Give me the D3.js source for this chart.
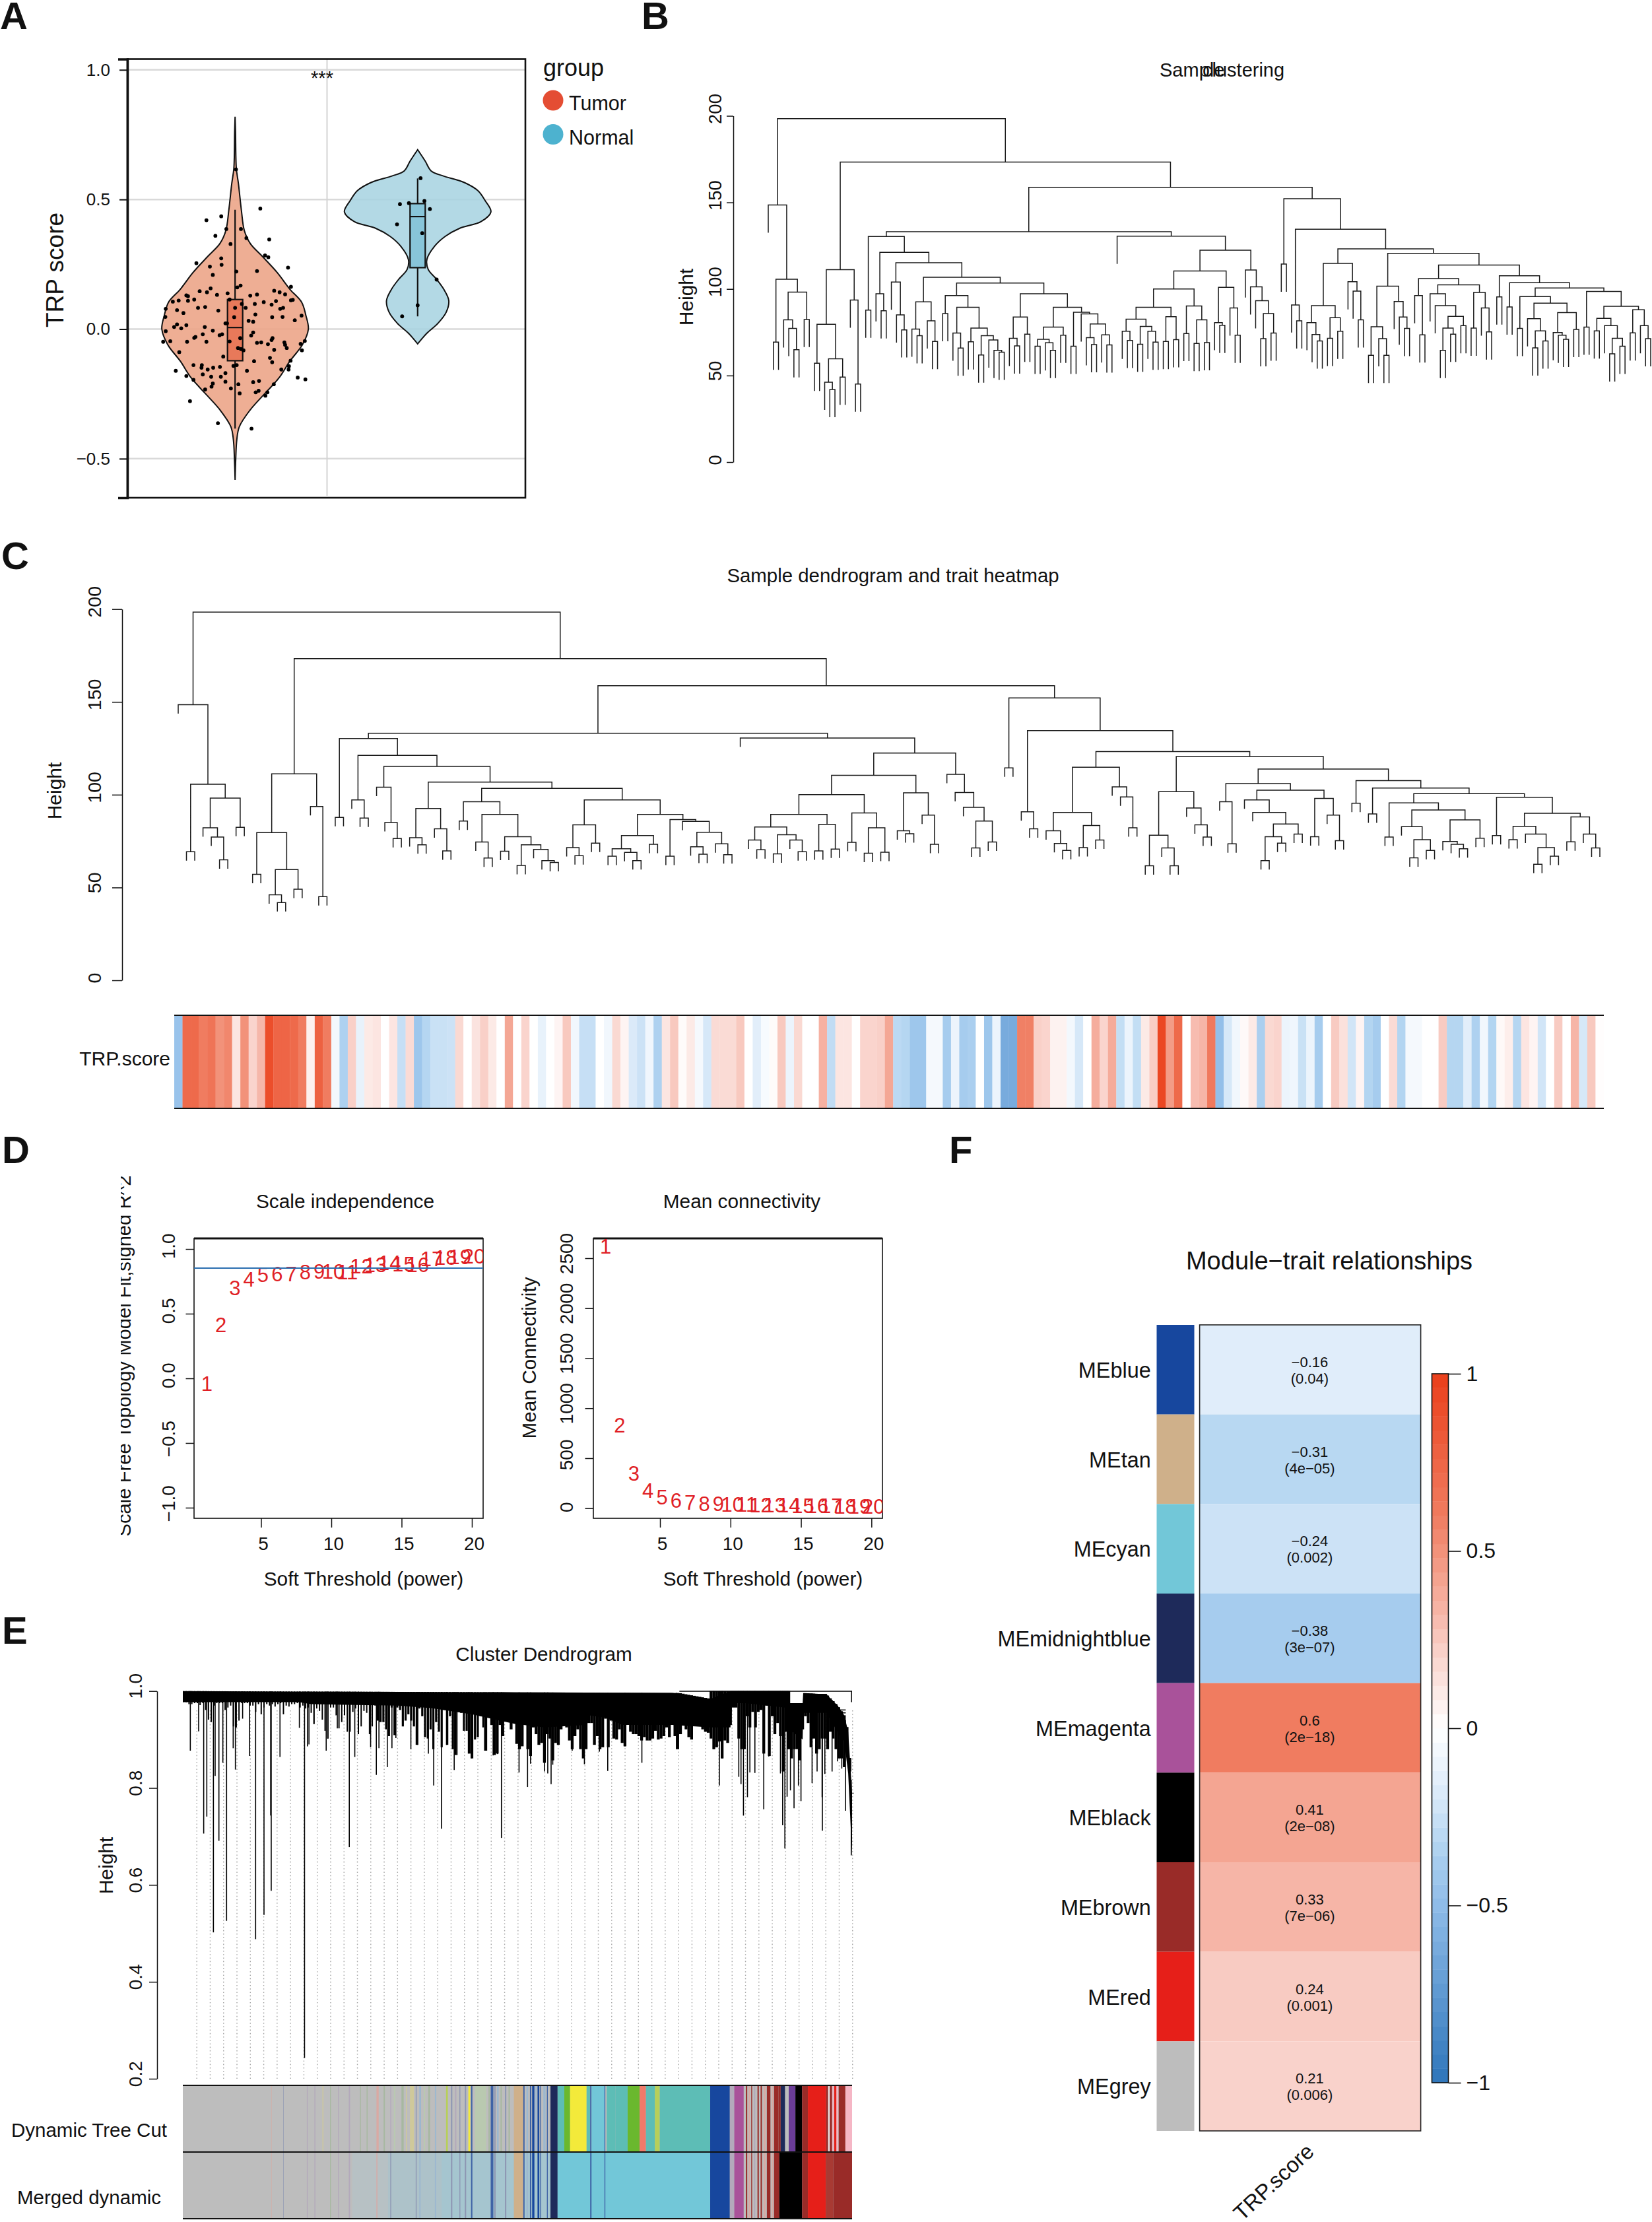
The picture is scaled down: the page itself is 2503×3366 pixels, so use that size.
<!DOCTYPE html>
<html>
<head>
<meta charset="utf-8">
<script src="https://cdn.jsdelivr.net/npm/d3@7"></script>
<style>
  html, body { margin: 0; padding: 0; background: #fff; }
  svg { display: block; }
  text { font-family: "Liberation Sans", Arial, sans-serif; fill: #111; }
</style>
</head>
<body>
<div id="d3-container"></div>
<script>
// A: violin panel
const yTicksA = [-0.5, 0, 0.5, 1]
const groupsA = ['Tumor', 'Normal']
const tumorDensityScore = [0.819, 0.762, 0.62, 0.56, 0.458, 0.38, 0.33, 0.28, 0.218, 0.154, 0.104, 0.053, 0, -0.06, -0.124, -0.187, -0.25, -0.314, -0.377, -0.428, -0.5, -0.582]
const tumorDensity = [0, 0.006, 0.017, 0.046, 0.086, 0.126, 0.207, 0.374, 0.575, 0.747, 0.908, 0.966, 1, 0.92, 0.747, 0.603, 0.402, 0.2, 0.057, 0.023, 0.009, 0]
const normalDensityScore = [0.692, 0.648, 0.61, 0.591, 0.566, 0.534, 0.496, 0.452, 0.414, 0.389, 0.357, 0.319, 0.268, 0.23, 0.192, 0.154, 0.11, 0.066, 0.022, -0.016, -0.057]
const normalDensity = [0, 0.103, 0.184, 0.345, 0.632, 0.822, 0.92, 1, 0.862, 0.575, 0.374, 0.23, 0.126, 0.144, 0.259, 0.356, 0.425, 0.391, 0.276, 0.126, 0]
// whisker low, q1, median, q3, whisker high
const tumorBox = [-0.384, -0.122, 0.006, 0.114, 0.46]
const normalBox = [0.049, 0.237, 0.434, 0.484, 0.581]
const tumorJitter = [0.138, -0.157, -0.076, -0.048, 0.032, -0.108, 0.062, 0.187, -0.025, 0.164, 0.182, -0.076, -0.212, -0.074, -0.138, 0.29, 0.12, 0.007, -0.122, 0.03, 0.012, 0.306, -0.194, -0.134, 0.214, 0.244, -0.154, -0.267, -0.258, -0.041, -0.099, 0.083, 0.12, 0.274, -0.224, -0.309, -0.341, -0.258, 0.306, 0.316, 0.224, 0.157, 0.108, -0.03, 0.037, 0.2, 0.263, -0.203, -0.164, -0.38, -0.318, -0.092, 0, 0.058, 0.247, -0.283, 0.111, -0.382, -0.005, 0.203, 0.26, 0.364, 0.074, 0.099, 0.327, -0.044, -0.053, -0.267, -0.318, -0.295, -0.334, -0.166, -0.122, -0.38, 0.099, 0.088, -0.177, -0.071, -0.085, -0.217, -0.224, 0.205, 0.2, 0.028, 0.27, -0.394, -0.355, -0.263, -0.157, 0.12, 0.143, 0.18, 0.274, 0.359, 0.382, -0.03, 0.283, 0.214, 0.016, 0.032, 0.046, 0.366, -0.306, -0.065, 0.191, 0.104, 0.304, 0.203, -0.228, -0.182, -0.184, -0.15, -0.12, -0.083, -0.009, 0.009, 0.295, 0.293, -0.325, 0.253, 0.065, -0.053, -0.177, -0.131, -0.078, -0.267, 0.343, 0.385, -0.228, 0.131, 0.099, -0.053, 0.018, -0.122, -0.129, 0.212, -0.164, -0.023, 0.113, 0.129, 0.177, 0.166, 0.025, -0.247, -0.094, 0.09, 0.005]
const tumorScore = [0.465, 0.42, 0.435, 0.386, 0.386, 0.36, 0.351, 0.346, 0.328, 0.284, 0.277, 0.273, 0.254, 0.248, 0.241, 0.237, 0.224, 0.222, 0.209, 0.168, 0.161, 0.163, 0.146, 0.157, 0.148, 0.142, 0.142, 0.13, 0.127, 0.138, 0.132, 0.129, 0.133, 0.134, 0.114, 0.11, 0.106, 0.109, 0.111, 0.113, 0.108, 0.104, 0.097, 0.114, 0.097, 0.094, 0.082, 0.082, 0.085, 0.078, 0.073, 0.071, 0.082, 0.082, 0.078, 0.062, 0.056, 0.047, 0.046, 0.046, 0.047, 0.052, 0.032, 0.028, 0.034, 0.022, 0.022, 0.015, 0.018, 0.003, 0.008, 0.008, -0.006, -0.008, -0.013, -0.025, -0.02, -0.02, -0.024, -0.03, -0.034, -0.035, -0.042, -0.035, -0.051, -0.049, -0.047, -0.049, -0.049, -0.053, -0.051, -0.058, -0.061, -0.057, -0.046, -0.048, -0.073, -0.08, -0.073, -0.077, -0.082, -0.082, -0.089, -0.106, -0.111, -0.124, -0.122, -0.128, -0.139, -0.139, -0.149, -0.156, -0.149, -0.146, -0.142, -0.139, -0.143, -0.156, -0.161, -0.156, -0.161, -0.17, -0.175, -0.184, -0.184, -0.181, -0.187, -0.194, -0.196, -0.2, -0.205, -0.203, -0.213, -0.21, -0.222, -0.213, -0.233, -0.229, -0.244, -0.238, -0.244, -0.257, -0.248, -0.278, -0.363, -0.384, 0.616]
const normalJitter = [0.016, 0.037, -0.048, -0.097, 0.067, -0.113, 0.025, 0.104, 0, -0.085]
const normalScore = [0.582, 0.494, 0.486, 0.482, 0.463, 0.404, 0.37, 0.191, 0.092, 0.049]

// B and C: one hierarchical tree, nested as [height, left, right], 0 is a leaf
const subA = [148.5, 0, [105.6, [69.3, 0, 0], [98.2, [82.2, 0, [77.2, 0, [64.9, 0, 0]]], [82.4, 0, 0]]]]
const subB = [111.2, [79.6, [57.1, 0, 0], [59.7, [46.1, 0, [41.9, 0, 0]], [49.1, 0, 0]]], [93.6, 0, [45.1, 0, 0]]]
const subC1 = [130.3, [87.8, 0, 0], [121.2, [97.2, 0, [87.4, 0, 0]], [115.2, [104, 0, [85, 0, [76.4, 0, 0]]], [106.8, [92.6, [76.8, 0, [73, 0, 0]], [81.6, 0, [69.7, 0, 0]]], [103.4, [96.2, [85.8, 0, 0], [89.4, [74.5, 0, [65.9, 0, 0]], [77.4, [69.5, 0, 0], [73, [61.9, 0, 0], [70.5, 0, [64.5, 0, [63.5, 0, 0]]]]]]], [97.2, [83.8, [71.5, 0, [67.1, 0, 0]], [73.9, 0, 0]], [89.4, [78, [70.9, [66.9, 0, 0], [68.9, 0, [64.5, 0, 0]]], [73.3, 0, 0]], [86.6, [66.9, 0, 0], [85.6, 0, [79.8, [71.9, 0, [67.9, 0, 0]], [73.5, 0, [67.7, 0, 0]]]]]]]]]]]]
const subC2a = [89.4, [82.6, [75.6, 0, [70.3, 0, 0]], [78.4, [68.1, 0, 0], [75.6, 0, [69.3, 0, 0]]]], [84, [69.7, 0, 0], [70.7, 0, 0]]]
const subC2b = [90.2, [74.3, 0, 0], [82.2, [68.5, 0, 0], [69, 0, 0]]]
const subC2 = [130.5, 0, [122.4, [110.4, [100, subC2a, subC2b], [101, [80.6, 0, [79, 0, 0]], [89, 0, [73.3, 0, 0]]]], [111, 0, [101.2, 0, [93.2, 0, [85.8, [71.3, 0, 0], [74.5, 0, 0]]]]]]]
const subD1 = [114.8, [90.4, [80.6, 0, [73.7, 0, [70, 0, 0]]], [83.4, [71.5, 0, 0], [75.6, 0, 0]]], [104.2, 0, [98.8, 0, [82.2, 0, 0]]]]
const subD3 = [106, [96.2, 0, [73.5, 0, 0]], [102.4, [97.2, 0, [90.4, 0, [84.2, [77.4, [64.5, 0, 0], [73.9, 0, 0]], [78.8, 0, 0]]]], [98, [77.4, 0, 0], [89, 0, [75.2, 0, 0]]]]]
const subD5 = [95.6, [77.2, 0, 0], [91.8, [82.8, 0, [75.8, [66, 0, 0], [70, 0, 0]]], [86.4, [74.8, 0, [73.3, 0, [70.9, 0, 0]]], [76.6, 0, 0]]]]
const subD6 = [98.6, [78, 0, 0], [90, [83, [75.8, 0, 0], [78.8, 0, [71.5, [62.5, 0, 0], [66.9, 0, 0]]]], [88, [74.6, 0, 0], [78.8, 0, [71.3, 0, 0]]]]]
const subD4 = [107.6, [95.4, 0, 0], [103.6, [89.6, 0, 0], [100.6, subD5, subD6]]]
const subD2 = [120.6, [101.6, [78.2, [61.7, 0, 0], [71.3, 0, [61.7, 0, 0]]], [92.8, 0, [83.8, 0, [77.2, 0, 0]]]], [113.8, subD3, subD4]]
const subD = [152.1, [114.4, 0, 0], [134.5, [90.8, 0, [81.6, 0, 0]], [123.2, subD1, subD2]]]
const sampleTree = [198.4, subA, [173.3, subB, [158.7, [133.1, subC1, subC2], subD]]]
const heightTicks = [0, 50, 100, 150, 200]
// C: trait colour per sample, same order as the leaves
const traitValues = [-0.45, 0.72, 0.72, 0.6, 0.65, 0.5, 0.55, 0.12, 0.5, 0.2, 0.32, 0.9, 0.75, 0.75, 0.72, 0.6, 0.07, 0.78, 0.6, -0.06, -0.35, 0.22, -0.12, 0.1, 0.12, 0, 0.12, -0.26, 0.17, -0.42, -0.32, -0.25, -0.25, -0.24, 0.18, 0, 0.13, 0.22, 0.1, 0, 0.4, 0, 0.2, 0, -0.12, 0, 0.05, 0.25, -0.07, -0.26, -0.26, 0, -0.07, 0.18, 0.05, -0.18, -0.24, -0.08, -0.35, 0.12, 0.25, 0.02, 0.1, -0.05, -0.2, 0.17, 0.17, 0.17, 0.25, 0, -0.15, -0.04, 0.02, 0.25, -0.1, 0.18, 0, 0, 0.35, -0.28, 0.12, 0.12, 0, 0.2, 0.2, 0.22, 0.4, -0.3, -0.32, -0.42, -0.42, -0.05, -0.05, -0.38, -0.1, -0.38, -0.36, 0, -0.42, -0.1, -0.62, -0.62, 0.58, 0.58, 0.22, 0.2, 0.06, 0.06, -0.06, -0.2, 0, 0.37, 0.2, 0.38, -0.27, -0.1, -0.27, 0.1, 0.23, 0.95, 0.45, 0.72, 0, 0.3, 0.33, 0.62, -0.48, -0.2, -0.07, 0.03, 0.1, -0.36, 0.18, 0.2, -0.1, -0.08, -0.25, -0.1, -0.38, 0, 0.24, 0.14, -0.22, 0.05, -0.33, -0.38, 0, 0.17, -0.33, -0.05, -0.05, 0, 0, 0.24, -0.32, -0.32, -0.15, -0.35, -0.07, -0.33, 0.03, 0.08, -0.32, 0.12, 0.05, -0.22, 0, 0.24, 0, 0.33, -0.2, 0.25, 0.01]

// D: soft threshold fit
const powers = d3.range(1, 21)
const scaleFit = [-0.043, 0.412, 0.697, 0.765, 0.802, 0.806, 0.806, 0.82, 0.825, 0.825, 0.82, 0.87, 0.879, 0.891, 0.884, 0.879, 0.925, 0.932, 0.938, 0.943]
const meanConnectivity = [2622, 831, 348, 177, 109, 74, 59, 47, 44, 40, 36, 32, 30, 28, 26, 24, 22, 21, 20, 19]
const powerTicks = [5, 10, 15, 20]
const fitTicks = [-1, -0.5, 0, 0.5, 1]
const connectivityTicks = [0, 500, 1000, 1500, 2000, 2500]
const fitCutoff = 0.852

// E: gene tree, position is gene rank on the tree
const geneTicks = [0.2, 0.4, 0.6, 0.8, 1]
const bandTopRank = [0, 893, 949, 950, 1091, 1092, 1115, 1116, 1158, 1178, 1190, 1197, 1204]
const bandTop = [1, 0.996, 0.984, 1, 1, 0.975, 0.975, 0.996, 0.993, 0.97, 0.95, 0.916, 0.79]
const bandFloorRank = [0, 208, 230, 386, 446, 520, 597, 650, 727, 730, 760, 790, 880, 949, 985, 988, 1012, 1091, 1092, 1115, 1116, 1158, 1178, 1190, 1197, 1204]
const bandFloor = [0.977, 0.977, 0.973, 0.97, 0.965, 0.952, 0.932, 0.925, 0.93, 0.95, 0.945, 0.93, 0.93, 0.925, 0.925, 0.975, 0.975, 0.965, 0.92, 0.9, 0.955, 0.955, 0.915, 0.895, 0.83, 0.66]
const capRank = [[893, 1204], [1091.6, 1115], [1103, 1115], [1127, 1159], [1178, 1192.6], [1183, 1192.6]]
const capHeight = [0.9995, 0.973, 0.96, 0.993, 0.961, 0.955]
const fringeHeights = [977, 977, 973, 973, 975, 975, 971, 975, 961, 941, 936, 970, 975, 975, 975, 961, 966, 970, 927, 925, 939, 975, 975, 975, 970, 970, 957, 973, 952, 966, 973, 970, 973, 968, 973, 975, 952, 970, 968, 973, 973, 975, 966, 970, 964, 966, 955, 932, 964, 959, 941, 918, 902, 966, 966, 950, 923, 936, 950, 916, 916, 957, 964, 911, 927, 959, 955, 911, 927, 970, 939, 936, 936, 921, 907, 966, 909, 966, 961, 927, 939, 952, 939, 927, 889, 964, 948, 905, 902, 921, 880, 936, 916, 884, 961, 889, 948, 880, 868, 961, 955, 918, 918, 871, 861, 900, 905, 948, 925, 877, 948, 930, 868, 871, 930, 907, 948, 966, 921, 961, 891,
  880, 886, 939, 880, 866, 925, 911, 889, 893, 852, 911, 902, 857, 893, 889, 921, 943, 925, 898, 880, 907, 921, 880, 861, 880, 934, 934, 889, 907, 880, 884, 943, 884, 939, 902, 900, 921, 893, 886, 939, 916, 911, 911, 907, 898, 905, 898, 898, 902, 918, 900, 902, 907, 925, 905, 939, 907, 880, 911, 939, 921, 905, 900, 930, 930, 930, 921, 916, 914, 902, 880, 884, 896, 861, 898, 893, 930, 966, 966, 902, 880, 880, 948, 925, 957, 925, 957, 961, 871, 970, 866, 948, 911, 934, 907, 834, 916, 880, 861, 880, 880, 857, 921, 948, 934, 884, 902, 871, 880, 902, 902, 880, 916, 902, 880, 861, 861, 843, 898, 834, 789]
const spikeRank = [12.3, 27.3, 36.4, 42, 53.9, 57, 63.8, 70.9, 77.6, 89.5, 93.5, 106.5, 118.8, 129.9, 145, 157, 158, 173.8, 208.7, 218, 223.3, 226, 235, 257, 260, 277, 298.6, 308.5, 315, 337, 347.3, 352, 367, 375.4, 382.5, 409.5, 422, 441, 450.6, 464.5, 473.6, 487.5, 492.6, 513, 518, 542, 557.6, 565.5, 572.6, 604.3, 619.6, 625, 650, 656, 662, 665, 700, 722, 749, 764, 795, 825.5, 887.7, 955, 965, 970, 1000, 1004, 1008.4, 1015.6, 1020, 1029, 1045, 1054, 1075, 1079, 1083, 1087, 1093, 1099.5, 1107.4, 1112, 1132, 1141, 1150, 1150.5, 1155, 1168, 1178, 1185.5, 1192, 1202.5]
const spikeHeight = [0.877, 0.917, 0.706, 0.741, 0.502, 0.825, 0.691, 0.852, 0.526, 0.882, 0.838, 0.943, 0.866, 0.488, 0.538, 0.743, 0.588, 0.864, 0.924, 0.243, 0.886, 0.89, 0.932, 0.877, 0.902, 0.923, 0.678, 0.864, 0.911, 0.884, 0.827, 0.882, 0.843, 0.882, 0.903, 0.88, 0.889, 0.871, 0.805, 0.716, 0.889, 0.837, 0.868, 0.871, 0.861, 0.877, 0.867, 0.87, 0.697, 0.832, 0.802, 0.85, 0.834, 0.83, 0.808, 0.848, 0.877, 0.849, 0.875, 0.835, 0.886, 0.852, 0.88, 0.88, 0.805, 0.861, 0.823, 0.808, 0.743, 0.781, 0.832, 0.831, 0.756, 0.865, 0.83, 0.723, 0.675, 0.782, 0.795, 0.758, 0.805, 0.773, 0.81, 0.834, 0.781, 0.712, 0.829, 0.834, 0.855, 0.84, 0.753, 0.661]

// E: module colour runs, position is rank on the strip
const stripColors = {
  grey: '#bdbdbd', salmon: '#d9a9a3', steel: '#8d96b3', lilac: '#b3a9bb', paleyellow: '#cfc99a', sage: '#a7b8a0',
  palegreen: '#b9c9b0', paleblue: '#9db8cf', yellowgreen: '#b7cf5a', yellow: '#f3ea3a', royal: '#3f63a6', tan: '#cfb08a',
  blue: '#17479e', midnight: '#1e2a5a', teal: '#5dbdb6', green: '#6ab82e', coral: '#f07a6a', cyan: '#72c7d8',
  magenta: '#a9529a', brown: '#992b28', red: '#e61f19', black: '#000000', purple: '#6a3c97', pink: '#f5b6c5', white: '#f3e6e4',
  mix1: '#b7c1c4', mix2: '#adc2c9', mix3: '#a5c5cf', brown2: '#a83a33'
}
const cutStart = [198, 225, 278, 295, 313, 330, 348, 372, 397, 412, 434, 450, 465, 473, 490, 500, 509, 522, 530, 540, 550, 565, 590, 601, 610, 620, 632, 640, 646, 655, 685, 690, 698, 704, 712, 722, 730, 742, 763, 770, 778, 783, 790, 795, 801, 808, 816, 824, 840, 855, 868, 905, 913, 916, 945, 950, 970, 997, 1024, 1038, 1058, 1069, 1182, 1226, 1236, 1262, 1268, 1274, 1280, 1288, 1295, 1302, 1309, 1320, 1325, 1335, 1340, 1350, 1358, 1373, 1388, 1401, 1442, 1447, 1450, 1456, 1460, 1465, 1470, 1485]
const cutWidth = [1, 1, 2, 2, 2, 2, 2, 3, 2, 2, 5, 3, 2, 3, 5, 2, 9, 2, 4, 3, 4, 3, 4, 3, 3, 2, 3, 4, 3, 25, 3, 6, 3, 4, 3, 3, 3, 21, 3, 4, 3, 5, 3, 4, 2, 5, 2, 16, 15, 13, 37, 8, 3, 30, 2, 20, 27, 27, 14, 20, 11, 113, 44, 10, 21, 3, 3, 2, 3, 3, 3, 4, 8, 3, 10, 5, 10, 8, 15, 15, 13, 41, 4, 3, 5, 3, 5, 4, 15, 15]
const cutColor = ['salmon', 'steel', 'lilac', 'lilac', 'paleyellow', 'sage', 'lilac', 'lilac', 'sage', 'sage', 'salmon', 'sage', 'lilac', 'palegreen', 'sage', 'paleyellow', 'paleyellow', 'steel', 'paleblue', 'palegreen', 'sage', 'paleblue', 'yellowgreen', 'steel', 'lilac', 'steel', 'steel', 'yellow', 'royal', 'palegreen', 'sage', 'royal', 'steel', 'paleblue', 'sage', 'steel', 'sage', 'tan', 'royal', 'paleblue', 'royal', 'blue', 'paleblue', 'blue', 'royal', 'paleblue', 'royal', 'midnight', 'teal', 'green', 'yellow', 'teal', 'royal', 'cyan', 'royal', 'teal', 'teal', 'green', 'coral', 'teal', 'yellowgreen', 'teal', 'blue', 'lilac', 'magenta', 'brown', 'salmon', 'brown', 'lilac', 'brown', 'brown', 'salmon', 'brown', 'salmon', 'brown', 'brown', 'midnight', 'grey', 'purple', 'black', 'brown', 'red', 'brown', 'white', 'brown', 'pink', 'red', 'pink', 'brown', 'pink']
const mergedStart = [380, 460, 580, 198, 225, 278, 295, 330, 348, 372, 434, 465, 522, 530, 565, 601, 620, 632, 646, 690, 698, 722, 742, 763, 770, 778, 783, 795, 801, 816, 824, 840, 913, 945, 1182, 1226, 1236, 1262, 1268, 1274, 1280, 1288, 1295, 1302, 1309, 1320, 1325, 1337, 1388, 1401, 1441, 1458]
const mergedWidth = [80, 120, 260, 1, 1, 2, 2, 2, 2, 3, 2, 2, 2, 3, 3, 3, 2, 3, 3, 6, 3, 3, 21, 3, 4, 3, 5, 4, 2, 2, 16, 342, 3, 2, 44, 10, 21, 3, 3, 2, 3, 3, 3, 4, 8, 3, 12, 51, 13, 40, 17, 42]
const mergedColor = ['mix1', 'mix2', 'mix3', 'salmon', 'steel', 'lilac', 'lilac', 'sage', 'lilac', 'lilac', 'salmon', 'steel', 'steel', 'paleblue', 'paleblue', 'steel', 'steel', 'steel', 'royal', 'royal', 'steel', 'steel', 'tan', 'royal', 'paleblue', 'royal', 'blue', 'blue', 'royal', 'royal', 'midnight', 'cyan', 'royal', 'royal', 'blue', 'lilac', 'magenta', 'brown', 'salmon', 'brown', 'lilac', 'brown', 'brown', 'salmon', 'brown', 'salmon', 'brown', 'black', 'brown', 'red', 'brown2', 'brown']

// F: module-trait table
const modules = ['MEblue', 'MEtan', 'MEcyan', 'MEmidnightblue', 'MEmagenta', 'MEblack', 'MEbrown', 'MEred', 'MEgrey']
const moduleFill = ['#17479e', '#cfb08a', '#72c7d8', '#1e2a5a', '#a9529a', '#000000', '#992b28', '#e61f19', '#bdbdbd']
const moduleCor = [-0.16, -0.31, -0.24, -0.38, 0.6, 0.41, 0.33, 0.24, 0.21]
const modulePval = ['(0.04)', '(4e\u221205)', '(0.002)', '(3e\u221207)', '(2e\u221218)', '(2e\u221208)', '(7e\u221206)', '(0.001)', '(0.006)']
const legendTicks = [-1, -0.5, 0, 0.5, 1]

const heatColor = d3
  .scaleLinear()
  .domain([-1, -0.5, -0.38, -0.31, -0.24, -0.16, 0, 0.22, 0.33, 0.41, 0.6, 1])
  .range(['#2e75ba', '#8fbce8', '#a6ccee', '#b8d8f2', '#cce2f6', '#e0edfa', '#ffffff', '#f9d0c8', '#f6b5a7', '#f4a592', '#f07c60', '#ea3f1a'])

const svg = d3
  .select('#d3-container')
  .append('svg')
  .attr('width', 2503)
  .attr('height', 3366)
  .attr('viewBox', [0, 0, 2503, 3366])

function label(g, str, x, y, size, opts = {}) {
  return g
    .append('text')
    .attr('x', x)
    .attr('y', y)
    .attr('font-size', size)
    .attr('text-anchor', opts.anchor || 'start')
    .attr('font-weight', opts.weight || 'normal')
    .attr('fill', opts.fill || '#111')
    .attr('transform', opts.rotate ? `rotate(${opts.rotate} ${x} ${y})` : null)
    .text(str)
}

// base R look: tick labels turned with the axis, nudged up by a share of their length
function turnLabels(a, labelOffset, size, shift) {
  a.selectAll('text')
    .attr('dy', 0)
    .attr('font-size', size)
    .attr('font-family', null)
    .attr('text-anchor', 'middle')
    .attr('transform', `translate(${labelOffset},0) rotate(-90)`)
    .attr('x', function() {
      return shift * this.getComputedTextLength()
    })
}

function leftAxis(g, scale, ticks, fmt, x, tickLen, labelX, size, shift) {
  const a = g
    .append('g')
    .attr('transform', `translate(${x},0)`)
    .call(d3.axisLeft(scale).tickValues(ticks).tickSizeInner(tickLen).tickSizeOuter(0).tickFormat(fmt))
  a.selectAll('path, line').attr('stroke', '#111').attr('stroke-width', 1.5)
  turnLabels(a, labelX - x, size, shift)
  return a
}

function bottomAxis(g, scale, ticks, y, tickLen, labelY, size) {
  const a = g
    .append('g')
    .attr('transform', `translate(0,${y})`)
    .call(d3.axisBottom(scale).tickValues(ticks).tickSizeInner(tickLen).tickSizeOuter(0))
  a.select('path').remove()
  a.selectAll('line').attr('stroke', '#111').attr('stroke-width', 1.5)
  a.selectAll('text')
    .attr('y', labelY - y)
    .attr('dy', 0)
    .attr('dx', 3)
    .attr('font-size', size)
    .attr('font-family', null)
  return a
}

function drawViolin(g, x, y, group, scores, density, jitter, points, box, fill, boxFill, opacity) {
  const width = d3.scaleLinear().domain([0, 1]).range([0, 111])
  const cx = x(group)
  const rows = scores.map((s, i) => ({ s, w: width(density[i]) }))
  g.append('path')
    .datum(rows)
    .attr('d', d3.area().y(d => y(d.s)).x0(d => cx - d.w).x1(d => cx + d.w).curve(d3.curveCatmullRom))
    .attr('fill', fill)
    .attr('fill-opacity', opacity)
    .attr('stroke', '#111')
    .attr('stroke-width', 2)

  g.append('line')
    .attr('x1', cx).attr('x2', cx)
    .attr('y1', y(box[0])).attr('y2', y(box[4]))
    .attr('stroke', '#111').attr('stroke-width', 2.2)
  g.append('rect')
    .attr('x', cx - 11.5).attr('width', 23)
    .attr('y', y(box[3])).attr('height', y(box[1]) - y(box[3]))
    .attr('fill', boxFill).attr('stroke', '#111').attr('stroke-width', 2.2)
  g.append('line')
    .attr('x1', cx - 11.5).attr('x2', cx + 11.5)
    .attr('y1', y(box[2])).attr('y2', y(box[2]))
    .attr('stroke', '#111').attr('stroke-width', 2.2)

  g.append('g')
    .selectAll('circle')
    .data(points)
    .join('circle')
    .attr('cx', (d, i) => cx + jitter[i] * x.step())
    .attr('cy', d => y(d))
    .attr('r', 2.9)
    .attr('fill', '#000')
}

function panelA() {
  const g = svg.append('g')
  const y = d3.scaleLinear().domain([-0.6506, 1.0415]).range([754, 89.5])
  const x = d3.scalePoint().domain(groupsA).range([193, 796]).padding(0.59)

  g.selectAll('line.grid')
    .data(yTicksA)
    .join('line')
    .attr('x1', 193).attr('x2', 796)
    .attr('y1', d => y(d)).attr('y2', d => y(d))
    .attr('stroke', '#d9d9d9').attr('stroke-width', 2.5)
  g.append('line')
    .attr('x1', 495.5).attr('x2', 495.5)
    .attr('y1', 90).attr('y2', 751)
    .attr('stroke', '#d4d4d4').attr('stroke-width', 2)

  drawViolin(g, x, y, 'Tumor', tumorDensityScore, tumorDensity, tumorJitter, tumorScore, tumorBox, '#eca385', '#e8795a', 0.88)
  drawViolin(g, x, y, 'Normal', normalDensityScore, normalDensity, normalJitter, normalScore, normalBox, '#a6d2e1', '#88c5d9', 0.85)

  g.append('rect')
    .attr('x', 193).attr('y', 89.5).attr('width', 603).attr('height', 664.5)
    .attr('fill', 'none').attr('stroke', '#111').attr('stroke-width', 2.6)

  const a = g
    .append('g')
    .attr('transform', 'translate(193,0)')
    .call(d3.axisLeft(y).tickValues(yTicksA).tickSizeInner(12).tickSizeOuter(14).tickPadding(14).tickFormat(d3.format('.1f')))
  a.selectAll('path').attr('stroke', '#111').attr('stroke-width', 3.5)
  a.selectAll('line').attr('stroke', '#111').attr('stroke-width', 2)
  a.selectAll('text').attr('font-size', 26).attr('font-family', null)

  label(g, 'TRP score', 96, 409, 37, { anchor: 'middle', rotate: -90 })
  label(g, '***', 488, 128, 29, { anchor: 'middle' })

  label(g, 'group', 823, 115, 36)
  const legendColor = d3.scaleOrdinal().domain(groupsA).range(['#e44d33', '#4db2cf'])
  const legendY = d3.scalePoint().domain(groupsA).range([152, 203.5])
  groupsA.forEach(name => {
    g.append('circle').attr('cx', 838).attr('cy', legendY(name)).attr('r', 15.5).attr('fill', legendColor(name))
    label(g, name, 862, legendY(name) + 15, 30.5)
  })
}

// walk the nested tree: leaves get consecutive ranks, merges sit at the mean of their children
function layoutTree(node, state) {
  if (node === 0) return { leaf: true, rank: state.next++ }
  const left = layoutTree(node[1], state)
  const right = layoutTree(node[2], state)
  return { height: node[0], rank: (left.rank + right.rank) / 2, left, right }
}

function drawDendrogram(g, x, y, hang, strokeWidth) {
  const root = layoutTree(sampleTree, { next: 0 })
  const path = d3.path()
  const visit = n => {
    if (n.leaf) return
    const childY = c => y(c.leaf ? n.height - hang : c.height)
    path.moveTo(x(n.left.rank), childY(n.left))
    path.lineTo(x(n.left.rank), y(n.height))
    path.lineTo(x(n.right.rank), y(n.height))
    path.lineTo(x(n.right.rank), childY(n.right))
    visit(n.left)
    visit(n.right)
  }
  visit(root)
  g.append('path')
    .attr('d', path.toString())
    .attr('fill', 'none')
    .attr('stroke', '#1a1a1a')
    .attr('stroke-width', strokeWidth)
}

function panelB() {
  const g = svg.append('g')
  const y = d3.scaleLinear().domain([0, 200]).range([700, 175.5])
  const x = d3.scaleLinear().domain([0, 172]).range([1164, 2501])
  drawDendrogram(g, x, y, 16, 1.5)
  leftAxis(g, y, heightTicks, d3.format('d'), 1111, 10, 1093, 27.5, 0.24)
  label(g, 'Height', 1050, 450, 30, { anchor: 'middle', rotate: -90 })
  label(g, 'Sample', 1757, 116, 29)
  label(g, 'clustering', 1822, 116, 29)
}

function panelC() {
  const g = svg.append('g')
  const y = d3.scaleLinear().domain([0, 200]).range([1485, 922.7])
  const x = d3.scaleLinear().domain([0, 172]).range([270, 2424])
  drawDendrogram(g, x, y, 4.8, 1.5)
  leftAxis(g, y, heightTicks, d3.format('d'), 185, 15, 153, 28.5, 0.24)
  label(g, 'Height', 92.5, 1198, 30, { anchor: 'middle', rotate: -90 })
  label(g, 'Sample dendrogram and trait heatmap', 1353, 882, 29.4, { anchor: 'middle' })

  const band = d3.scaleBand().domain(d3.range(traitValues.length)).range([264, 2430])
  g.append('g')
    .selectAll('rect')
    .data(traitValues)
    .join('rect')
    .attr('x', (d, i) => band(i))
    .attr('width', band.bandwidth() + 0.3)
    .attr('y', 1538)
    .attr('height', 141)
    .attr('fill', d => heatColor(d))
  g.selectAll('line.edge')
    .data([1538, 1679])
    .join('line')
    .attr('x1', 264).attr('x2', 2430)
    .attr('y1', d => d).attr('y2', d => d)
    .attr('stroke', '#111').attr('stroke-width', 2)
  label(g, 'TRP.score', 258, 1614, 30, { anchor: 'end' })
}

function thresholdPlot(g, box, xDomain, yDomain, values, yTicks, yFmt, tickLabelX) {
  const x = d3.scaleLinear().domain(xDomain).range([box.x0, box.x1])
  const y = d3.scaleLinear().domain(yDomain).range([box.y1, box.y0])
  const clipId = `clip-${box.x0}`

  g.append('clipPath').attr('id', clipId).append('rect')
    .attr('x', box.x0).attr('y', box.y0)
    .attr('width', box.x1 - box.x0).attr('height', box.y1 - box.y0)

  g.append('rect')
    .attr('x', box.x0).attr('y', box.y0)
    .attr('width', box.x1 - box.x0).attr('height', box.y1 - box.y0)
    .attr('fill', 'none').attr('stroke', '#111').attr('stroke-width', 1.6)
  g.append('line')
    .attr('x1', box.x0).attr('x2', box.x1)
    .attr('y1', box.y0).attr('y2', box.y0)
    .attr('stroke', '#111').attr('stroke-width', 3.2)

  const yAxis = g
    .append('g')
    .attr('transform', `translate(${box.x0},0)`)
    .call(d3.axisLeft(y).tickValues(yTicks).tickSizeInner(12.5).tickSizeOuter(0).tickFormat(yFmt))
  yAxis.select('path').remove()
  yAxis.selectAll('line').attr('stroke', '#111').attr('stroke-width', 1.5)
  turnLabels(yAxis, tickLabelX - box.x0, 28, 0.12)

  bottomAxis(g, x, powerTicks, box.y1, 14, 2348, 28)

  g.append('g')
    .attr('clip-path', `url(#${clipId})`)
    .selectAll('text')
    .data(powers)
    .join('text')
    .attr('x', d => x(d) + 3)
    .attr('y', (d, i) => y(values[i]) + 11)
    .attr('text-anchor', 'middle')
    .attr('font-size', 31)
    .style('fill', '#e01f26')
    .text(d => d)

  return { x, y, clipId }
}

function panelD() {
  const g = svg.append('g')
  const fit = thresholdPlot(g, { x0: 294, x1: 732, y0: 1876, y1: 2300 }, [0.235, 20.8], [-1.082, 1.082], scaleFit, fitTicks, d3.format('.1f'), 265)
  g.append('line')
    .attr('x1', 294).attr('x2', 732)
    .attr('y1', fit.y(fitCutoff)).attr('y2', fit.y(fitCutoff))
    .attr('stroke', '#2a6eb0').attr('stroke-width', 2)
  thresholdPlot(g, { x0: 899, x1: 1337, y0: 1876, y1: 2300 }, [0.27, 20.78], [-101, 2698], meanConnectivity, connectivityTicks, d3.format('d'), 868)

  g.append('clipPath').attr('id', 'clip-fit-label').append('rect')
    .attr('x', 183).attr('y', 1760).attr('width', 60).attr('height', 600)
  g.append('g')
    .attr('clip-path', 'url(#clip-fit-label)')
    .call(s => label(s, 'Scale Free Topology Model Fit,signed R^2', 198, 2054, 29.2, { anchor: 'middle', rotate: -90 }))

  label(g, 'Mean Connectivity', 812, 2057, 29.8, { anchor: 'middle', rotate: -90 })
  label(g, 'Scale independence', 523, 1830, 29.8, { anchor: 'middle' })
  label(g, 'Mean connectivity', 1124, 1830, 29.8, { anchor: 'middle' })
  label(g, 'Soft Threshold (power)', 551, 2402, 29.8, { anchor: 'middle' })
  label(g, 'Soft Threshold (power)', 1156, 2402, 29.8, { anchor: 'middle' })
}

function panelE() {
  const g = svg.append('g')
  const y = d3.scaleLinear().domain([0.2, 1]).range([3149, 2561.7])
  const x = d3.scaleLinear().domain([0, 1204]).range([278, 1291])
  const topAt = d3.scaleLinear().domain(bandTopRank).range(bandTop).clamp(true)

  // guide lines, 50 of them across the tree
  g.append('g')
    .selectAll('line')
    .data(d3.range(24, 1205, 24.1))
    .join('line')
    .attr('x1', d => x(d)).attr('x2', d => x(d))
    .attr('y1', y(0.2)).attr('y2', y(0.96))
    .attr('stroke', '#a5a5a5')
    .attr('stroke-width', 1.4)
    .attr('stroke-dasharray', '1.6 3.6')

  const stems = g.append('g').attr('stroke', '#000')
  stems.selectAll('line.fringe')
    .data(fringeHeights)
    .join('line')
    .attr('class', 'fringe')
    .attr('x1', (d, i) => x(i * 5)).attr('x2', (d, i) => x(i * 5))
    .attr('y1', (d, i) => y(topAt(i * 5))).attr('y2', d => y(d / 1000))
    .attr('stroke-width', (d, i) => (i < 70 ? 2 : i < 110 ? 3.2 : 4.3))
  stems.selectAll('line.spike')
    .data(spikeHeight)
    .join('line')
    .attr('class', 'spike')
    .attr('x1', (d, i) => x(spikeRank[i])).attr('x2', (d, i) => x(spikeRank[i]))
    .attr('y1', (d, i) => y(topAt(spikeRank[i]))).attr('y2', d => y(d))
    .attr('stroke-width', 1.6)

  g.append('path')
    .datum(bandFloorRank)
    .attr('d', d3.area().x(d => x(d)).y0((d, i) => y(bandFloor[i])).y1(d => y(topAt(d))))
    .attr('fill', '#000')

  g.selectAll('line.cap')
    .data(capRank)
    .join('line')
    .attr('x1', d => x(d[0])).attr('x2', d => x(d[1]))
    .attr('y1', (d, i) => y(capHeight[i])).attr('y2', (d, i) => y(capHeight[i]))
    .attr('stroke', '#000').attr('stroke-width', 1.5)
  g.append('line')
    .attr('x1', x(1203)).attr('x2', x(1203))
    .attr('y1', y(1)).attr('y2', y(0.977))
    .attr('stroke', '#000').attr('stroke-width', 1.5)

  leftAxis(g, y, geneTicks, d3.format('.1f'), 238, 12, 215, 28, 0.2)
  label(g, 'Height', 171, 2826, 30, { anchor: 'middle', rotate: -90 })
  label(g, 'Cluster Dendrogram', 824, 2516, 29.7, { anchor: 'middle' })

  const strip = d3.scaleLinear().domain([0, 1500]).range([277, 1291])
  const drawStrip = (starts, widths, colors, y0, y1) => {
    g.append('rect')
      .attr('x', 277).attr('width', 1014)
      .attr('y', y0).attr('height', y1 - y0)
      .attr('fill', stripColors.grey)
    g.append('g')
      .selectAll('rect')
      .data(starts)
      .join('rect')
      .attr('x', d => strip(d))
      .attr('width', (d, i) => strip(d + widths[i]) - strip(d))
      .attr('y', y0)
      .attr('height', y1 - y0)
      .attr('fill', (d, i) => stripColors[colors[i]])
  }
  drawStrip(cutStart, cutWidth, cutColor, 3159, 3260)
  drawStrip(mergedStart, mergedWidth, mergedColor, 3260, 3361)
  g.selectAll('line.edge')
    .data([3159, 3260, 3361])
    .join('line')
    .attr('x1', 277).attr('x2', 1291)
    .attr('y1', d => d).attr('y2', d => d)
    .attr('stroke', '#111').attr('stroke-width', 2)

  label(g, 'Dynamic Tree Cut', 135, 3237, 29.5, { anchor: 'middle' })
  label(g, 'Merged dynamic', 135, 3339, 29.5, { anchor: 'middle' })
}

function panelF() {
  const g = svg.append('g')
  const rows = d3.scaleBand().domain(modules).range([2007, 3228])

  g.append('g')
    .selectAll('rect')
    .data(modules)
    .join('rect')
    .attr('x', 1752.5).attr('width', 57)
    .attr('y', d => rows(d)).attr('height', rows.bandwidth())
    .attr('fill', (d, i) => moduleFill[i])

  g.append('g')
    .selectAll('rect')
    .data(moduleCor)
    .join('rect')
    .attr('x', 1817.6).attr('width', 335)
    .attr('y', (d, i) => rows(modules[i])).attr('height', rows.bandwidth())
    .attr('fill', d => heatColor(d))
  g.append('rect')
    .attr('x', 1817.6).attr('width', 335)
    .attr('y', 2007).attr('height', 1221)
    .attr('fill', 'none').attr('stroke', '#222').attr('stroke-width', 1.6)

  modules.forEach((name, i) => {
    const mid = rows(name) + rows.bandwidth() / 2
    label(g, name, 1743.7, mid + 12, 32.4, { anchor: 'end' })
    label(g, d3.format('~g')(moduleCor[i]), 1984.4, mid - 4, 22, { anchor: 'middle' })
    label(g, modulePval[i], 1984.4, mid + 21, 22, { anchor: 'middle' })
  })

  label(g, 'Module\u2212trait relationships', 2014, 1923, 38, { anchor: 'middle' })
  label(g, 'TRP.score', 1993, 3262, 33, { anchor: 'end', rotate: -43 })

  const y = d3.scaleLinear().domain([-1, 1]).range([3155, 2081])
  const levels = d3.range(50).map(i => -1 + (i + 0.5) * 0.04)
  g.append('g')
    .selectAll('rect')
    .data(levels)
    .join('rect')
    .attr('x', 2169.5).attr('width', 25)
    .attr('y', d => y(d + 0.02))
    .attr('height', y(-1) - y(-0.96) + 0.4)
    .attr('fill', d => heatColor(d))
  g.append('rect')
    .attr('x', 2169.5).attr('width', 25)
    .attr('y', 2081).attr('height', 1074)
    .attr('fill', 'none').attr('stroke', '#111').attr('stroke-width', 1.6)

  const a = g
    .append('g')
    .attr('transform', 'translate(2194.6,0)')
    .call(d3.axisRight(y).tickValues(legendTicks).tickSizeInner(19).tickSizeOuter(0).tickPadding(8).tickFormat(d3.format('~g')))
  a.select('path').remove()
  a.selectAll('line').attr('stroke', '#111').attr('stroke-width', 1.6)
  a.selectAll('text').attr('font-size', 32).attr('font-family', null)
}

function panelLetters() {
  const letters = ['A', 'B', 'C', 'D', 'E', 'F']
  const letterX = [0, 972, 2, 3, 3, 1438]
  const letterY = [44, 44, 862, 1762, 2490, 1762]
  letters.forEach((l, i) => label(svg, l, letterX[i], letterY[i], 58, { weight: 'bold' }))
}

panelA()
panelB()
panelC()
panelD()
panelE()
panelF()
panelLetters()
</script>
</body>
</html>
